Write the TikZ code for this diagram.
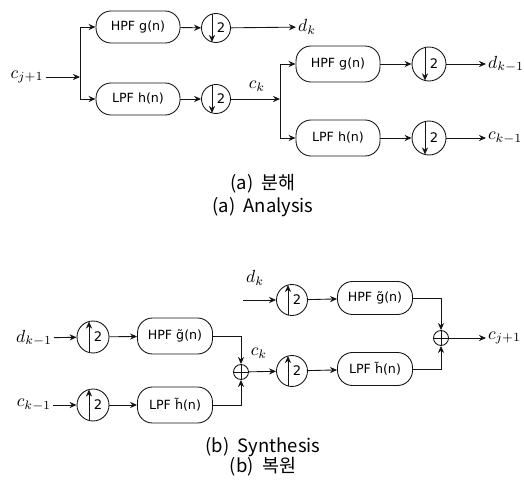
\documentclass[tikz,border=0pt]{standalone}
\usepackage{amsmath}
\usepackage{fontspec}
\setmainfont{Noto Sans CJK KR}
\newfontfamily\boxfont{DejaVu Sans}
\usepackage{tikz}
\usetikzlibrary{arrows.meta, positioning, calc}
\definecolor{mydark}{RGB}{20,20,20}
\tikzset{
  filt/.style={rectangle, draw=mydark, rounded corners=0.3cm,
    minimum width=1.68cm, minimum height=0.64cm, inner sep=1pt,
    font=\boxfont\fontsize{7.2}{8}\selectfont, line width=0.5pt},
  filtb/.style={filt, minimum height=0.72cm},
  synfilt/.style={filt, minimum width=1.5cm, minimum height=0.66cm},
  rate/.style={circle, draw=mydark, minimum size=0.58cm, inner sep=0pt, line width=0.5pt},
  rateb/.style={rate, minimum size=0.68cm},
  sumjunc/.style={circle, draw=mydark, minimum size=0.3cm, inner sep=0pt, line width=0.5pt},
  sig/.style={inner sep=1pt, font=\fontsize{10}{12}\selectfont},
  two/.style={inner sep=0pt, font=\boxfont\fontsize{7.5}{8}\selectfont},
  captext/.style={inner sep=0pt, font=\fontsize{10.5}{12}\selectfont},
  arrow/.style={-{Stealth[length=4pt,width=3.5pt]}, line width=0.5pt, color=mydark},
  line/.style={line width=0.5pt, color=mydark}
}

\begin{document}
\begin{tikzpicture}[x=0.02cm, y=-0.02cm]
  \useasboundingbox (0,0) rectangle (524,493);

  % Analysis: first stage
  \node[sig] (cj) at (27,77) {$c_{j+1}$};
  \coordinate (br1) at (80,77);
  \node[filt] (hpf1) at (138,27) {HPF g(n)};
  \node[filt] (lpf1) at (138,99) {LPF h(n)};
  \node[rate] (dn1) at (216,28) {};
  \node[rate] (dn2) at (216,99) {};
  \node[sig, anchor=west] (dk) at (296,27) {$d_k$};
  \coordinate (br2) at (280,99);
  \node[sig] (ck) at (257,86) {$c_k$};

  % Analysis: second stage
  \node[filtb] (hpf2) at (338,64) {HPF g(n)};
  \node[filtb] (lpf2) at (338,138) {LPF h(n)};
  \node[rateb] (dn3) at (429,64) {};
  \node[rateb] (dn4) at (429,138) {};
  \node[sig, anchor=west] (dkm) at (486,64) {$d_{k-1}$};
  \node[sig, anchor=west] (ckm) at (486,138) {$c_{k-1}$};

  % Analysis connectors
  \draw[arrow] (cj) -- (br1);
  \draw[arrow] (br1) |- (hpf1);
  \draw[arrow] (br1) |- (lpf1);
  \draw[arrow] (hpf1) -- (dn1);
  \draw[arrow] (lpf1) -- (dn2);
  \draw[arrow] (dn1) -- (dk);
  \draw[arrow] (dn2) -- (br2);
  \draw[arrow] (br2) |- (hpf2);
  \draw[arrow] (br2) |- (lpf2);
  \draw[arrow] (hpf2) -- (dn3);
  \draw[arrow] (lpf2) -- (dn4);
  \draw[arrow] (dn3) -- (dkm);
  \draw[arrow] (dn4) -- (ckm);

  % Down-sampler marks
  \foreach \n in {dn1, dn2, dn3, dn4} {
    \draw[arrow] ($(\n.north)+(-4,1)$) -- ($(\n.south)+(-4,-1)$);
    \node[two] (\n-two) at ($(\n.center)+(5,0)$) {2};
  }

  % Captions (a)
  \node[captext] (capa1) at (263,184) {(a)\ \ 분해};
  \node[captext] (capa2) at (263,207) {(a)\ \ Analysis};

  % Synthesis: left part
  \node[sig] (sdkm) at (34,338) {$d_{k-1}$};
  \node[sig] (sckm) at (34,405) {$c_{k-1}$};
  \node[rate, minimum height=0.64cm] (up1) at (93,337) {};
  \node[rate, minimum height=0.64cm] (up2) at (93,405) {};
  \node[synfilt, minimum height=0.72cm] (hpf3) at (175,336) {HPF g̃(n)};
  \node[synfilt, minimum height=0.72cm] (lpf3) at (175,405) {LPF h̃(n)};
  \node[sumjunc] (sum1) at (241,372) {};
  \node[sig] (sck) at (259,353) {$c_k$};

  % Synthesis: right part
  \node[sig] (sdk) at (255,278) {$d_k$};
  \coordinate (in2) at (243,300);
  \node[rate, minimum height=0.62cm] (up3) at (292,371) {};
  \node[rate, minimum height=0.62cm] (up4) at (292,300) {};
  \node[synfilt] (hpf4) at (375,298) {HPF g̃(n)};
  \node[synfilt] (lpf4) at (375,369) {LPF h̃(n)};
  \node[sumjunc] (sum2) at (441,338) {};
  \node[sig, anchor=west] (scj) at (486,338) {$c_{j+1}$};

  % Synthesis connectors
  \draw[arrow] (sdkm) -- (up1);
  \draw[arrow] (sckm) -- (up2);
  \draw[arrow] (up1) -- (hpf3);
  \draw[arrow] (up2) -- (lpf3);
  \draw[arrow] (hpf3.east) -| (sum1.north);
  \draw[arrow] (lpf3.east) -| (sum1.south);
  \draw[arrow] (sum1) -- (up3);
  \draw[arrow] (in2) -- (up4);
  \draw[arrow] (up4) -- (hpf4);
  \draw[arrow] (up3) -- (lpf4);
  \draw[arrow] (hpf4.east) -| (sum2.north);
  \draw[arrow] (lpf4.east) -| (sum2.south);
  \draw[arrow] (sum2) -- (scj);

  % Up-sampler marks and adders
  \foreach \n in {up1, up2, up3, up4} {
    \draw[arrow] ($(\n.south)+(-4,-1)$) -- ($(\n.north)+(-4,1)$);
    \node[two] (\n-two) at ($(\n.center)+(5,0)$) {2};
  }
  \foreach \n in {sum1, sum2} {
    \draw[line] (\n.north) -- (\n.south);
    \draw[line] (\n.west) -- (\n.east);
  }

  % Captions (b)
  \node[captext] (capb1) at (263,447) {(b)\ \ Synthesis};
  \node[captext] (capb2) at (263,467) {(b)\ \ 복원};
\end{tikzpicture}
\end{document}
